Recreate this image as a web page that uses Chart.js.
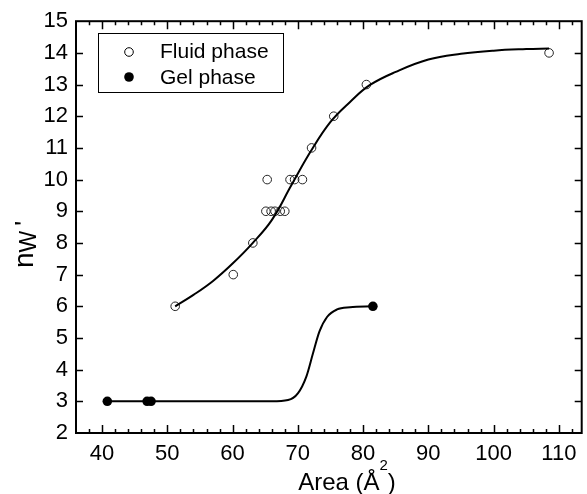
<!DOCTYPE html>
<html lang="en">
<head>
<meta charset="UTF-8">
<title>nW' vs Area</title>
<script src="https://cdn.jsdelivr.net/npm/chart.js"></script>
<style>
  body { margin: 0; background: #fff; }
  #box { width: 587px; height: 494px; }
</style>
</head>
<body>
<div id="box"><canvas id="grafico" width="587" height="494"></canvas></div>
<script>
// measured points (open circles = fluid, filled = gel)
const fluidArea = [51.2, 60.1, 63.1, 65.1, 65.9, 66.5, 67.3, 68.0, 65.3, 68.8, 69.5, 70.7, 72.1, 75.5, 80.5, 108.5];
const fluidN = [6, 7, 8, 9, 9, 9, 9, 9, 10, 10, 10, 10, 11, 12, 13, 14];
const gelArea = [40.8, 46.9, 47.5, 81.5];
const gelN = [3, 3, 3, 6];

// fitted curves
const fluidFitArea = [51.2, 54, 57, 60, 63, 66, 69, 72, 75, 78, 81, 85, 90, 95, 100, 105, 108.5];
const fluidFitN = [6.0, 6.36, 6.8, 7.35, 7.98, 8.72, 9.82, 10.9, 11.82, 12.45, 12.98, 13.4, 13.79, 13.97, 14.07, 14.12, 14.14];
const gelFitArea = [40.8, 50, 60, 66, 68.5, 70, 71.3, 72.3, 73.3, 74.5, 76, 78, 81.5];
const gelFitN = [3, 3, 3, 3, 3.04, 3.25, 3.78, 4.5, 5.2, 5.67, 5.9, 5.97, 6.0];

const xTicks = [40, 50, 60, 70, 80, 90, 100, 110];
const yTicks = [2, 3, 4, 5, 6, 7, 8, 9, 10, 11, 12, 13, 14, 15];

const fonte = '"Liberation Sans", Arial, sans-serif';

function pares(xs, ys) {
  return xs.map(function (x, i) { return { x: x, y: ys[i] }; });
}

// frame, inward ticks, axis titles and legend box
const moldura = {
  id: 'moldura',
  afterDraw: function (chart) {
    const ctx = chart.ctx;
    const a = chart.chartArea;
    const sx = chart.scales.x;
    const sy = chart.scales.y;
    ctx.save();
    ctx.strokeStyle = '#000';
    ctx.lineWidth = 2;
    ctx.strokeRect(a.left, a.top, a.right - a.left, a.bottom - a.top);

    ctx.lineWidth = 1.5;
    ctx.beginPath();
    for (let v = 38; v <= 112; v += 2) {
      const px = Math.round(sx.getPixelForValue(v)) + 0.5;
      const len = v % 10 === 0 ? 8 : 4;
      ctx.moveTo(px, a.bottom); ctx.lineTo(px, a.bottom - len);
      ctx.moveTo(px, a.top); ctx.lineTo(px, a.top + len);
    }
    for (let v = 3; v <= 14; v++) {
      const py = Math.round(sy.getPixelForValue(v)) + 0.5;
      ctx.moveTo(a.left, py); ctx.lineTo(a.left + 7, py);
      ctx.moveTo(a.right, py); ctx.lineTo(a.right - 7, py);
    }
    ctx.stroke();

    // x title: Area (Å²)
    ctx.fillStyle = '#000';
    ctx.textBaseline = 'alphabetic';
    ctx.font = '24px ' + fonte;
    const t1 = 'Area (Å';
    const t3 = ')';
    const w1 = ctx.measureText(t1).width;
    const w3 = ctx.measureText(t3).width;
    ctx.font = '15px ' + fonte;
    const w2 = ctx.measureText('2').width;
    let x0 = 347 - (w1 + w2 + w3) / 2;
    ctx.font = '24px ' + fonte;
    ctx.fillText(t1, x0, 490);
    ctx.font = '15px ' + fonte;
    ctx.fillText('2', x0 + w1, 470);
    ctx.font = '24px ' + fonte;
    ctx.fillText(t3, x0 + w1 + w2, 490);

    // y title: n_W '
    ctx.save();
    ctx.translate(33, 268);
    ctx.rotate(-Math.PI / 2);
    ctx.font = '28px ' + fonte;
    const wn = ctx.measureText('n').width;
    ctx.fillText('n', 0, 0);
    ctx.font = '23px ' + fonte;
    const ww = ctx.measureText('W').width;
    ctx.fillText('W', wn, 3);
    ctx.font = '26px ' + fonte;
    ctx.fillText("'", wn + ww + 5, 0);
    ctx.restore();

    // legend
    ctx.lineWidth = 1;
    ctx.strokeRect(98.5, 33.5, 185, 59);
    ctx.beginPath();
    ctx.arc(129, 52, 4.3, 0, Math.PI * 2);
    ctx.stroke();
    ctx.beginPath();
    ctx.arc(129, 77, 4.8, 0, Math.PI * 2);
    ctx.fill();
    ctx.font = '21px ' + fonte;
    ctx.textBaseline = 'middle';
    ctx.fillText('Fluid phase', 160, 52);
    ctx.fillText('Gel phase', 160, 78);
    ctx.restore();
  }
};

const config = {
  type: 'scatter',
  data: {
    datasets: [
      {
        label: 'Fluid fit',
        data: pares(fluidFitArea, fluidFitN),
        showLine: true,
        borderColor: '#000',
        borderWidth: 2,
        pointRadius: 0,
        tension: 0.4
      },
      {
        label: 'Gel fit',
        data: pares(gelFitArea, gelFitN),
        showLine: true,
        borderColor: '#000',
        borderWidth: 2,
        pointRadius: 0,
        cubicInterpolationMode: 'monotone'
      },
      {
        label: 'Fluid phase',
        data: pares(fluidArea, fluidN),
        pointRadius: 4.3,
        borderWidth: 1,
        borderColor: '#222',
        backgroundColor: 'rgba(255,255,255,0)'
      },
      {
        label: 'Gel phase',
        data: pares(gelArea, gelN),
        pointRadius: 4.8,
        borderWidth: 0,
        backgroundColor: '#000'
      }
    ]
  },
  options: {
    responsive: false,
    animation: false,
    layout: { padding: { top: 21, right: 1, left: 0, bottom: 0 } },
    plugins: { legend: { display: false }, tooltip: { enabled: false } },
    scales: {
      x: {
        type: 'linear',
        min: 36,
        max: 113.5,
        afterBuildTicks: function (s) { s.ticks = xTicks.map(function (v) { return { value: v }; }); },
        afterFit: function (s) { s.height = 61; },
        grid: { display: false, drawTicks: false },
        border: { display: false },
        ticks: { color: '#000', font: { family: fonte, size: 22 }, padding: 8, maxRotation: 0 }
      },
      y: {
        type: 'linear',
        min: 2,
        max: 15,
        afterBuildTicks: function (s) { s.ticks = yTicks.map(function (v) { return { value: v }; }); },
        afterFit: function (s) { s.width = 76; },
        grid: { display: false, drawTicks: false },
        border: { display: false },
        ticks: { color: '#000', font: { family: fonte, size: 22 }, padding: 8 }
      }
    }
  },
  plugins: [moldura]
};

let myChart = new Chart(document.getElementById('grafico'), config);
</script>
</body>
</html>
